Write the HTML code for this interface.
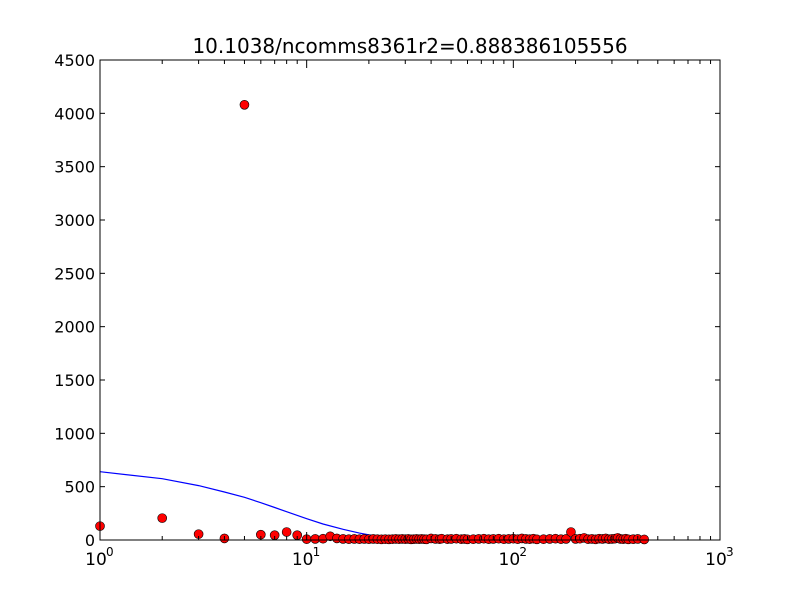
<!DOCTYPE html>
<html><head><meta charset="utf-8"><style>
body{margin:0;background:#fff;}
svg text{font-family:"DejaVu Sans","Liberation Sans",sans-serif;}
</style></head><body>
<svg id="chart" width="800" height="600" xmlns="http://www.w3.org/2000/svg">
<rect width="800" height="600" fill="#fff"/>
<text x="410" y="53" font-size="20" text-anchor="middle">10.1038/ncomms8361r2=0.888386105556</text>
<g id="marks"></g>
<g id="axes"></g>
<rect x="100" y="60" width="620" height="480" fill="none" stroke="#000" stroke-width="1"/>
</svg>
<script>
const yTicks=[0,500,1000,1500,2000,2500,3000,3500,4000,4500];
const xDecades=[0,1,2,3];
const ptX=[1,2,3,4,5,6,7,8,9,10,11,12,13,14,15,16,17,18,19,20,21,22,23,24,25,26,27,28,29,30,31,32,33,34,35,36,37,38,40,42,44,45,48,50,53,56,58,60,64,68,72,76,80,85,90,95,100,105,110,115,120,125,130,140,150,160,170,180,190,200,210,220,230,240,250,260,270,280,290,300,310,320,330,340,350,360,380,400,430];
const ptY=[130,205,55,15,4080,50,45,75,45,8,10,12,35,15,10,8,10,8,10,8,10,8,6,8,6,8,10,8,10,8,10,6,8,10,8,10,8,6,15,10,8,12,8,10,12,8,10,6,8,10,12,8,10,12,8,10,12,8,15,10,8,12,6,8,10,12,8,10,75,10,12,20,8,10,6,12,10,15,8,10,12,20,10,8,12,6,8,10,5];
const lineX=[1,2,3,4,5,6,7,8,10,12,15,18,20,25,30,50,100,200,430];
const lineY=[640,575,510,450,400,350,305,265,200,150,100,65,48,25,22,20,20,20,20];
const X0=100,X1=720,Y0=540,Y1=60;
function sx(v){return X0+(Math.log10(v)-0)/3*(X1-X0);}
function sy(v){return Y0-v/4500*(Y0-Y1);}
const NS="http://www.w3.org/2000/svg";
const marks=document.getElementById('marks'),axes=document.getElementById('axes');
function mk(t,a,p){const e=document.createElementNS(NS,t);for(const k in a)e.setAttribute(k,a[k]);p.appendChild(e);return e;}
let d=lineX.map((x,i)=>(i?'L':'M')+sx(x).toFixed(1)+','+sy(lineY[i]).toFixed(1)).join(' ');
const ln=mk('path',{d:d,fill:'none',stroke:'#0000ff','stroke-width':1.2},marks);


ptX.forEach((x,i)=>{
 const c=mk('circle',{cx:sx(x),cy:sy(ptY[i]),r:4.5,fill:'#ff0000',stroke:'#000','stroke-width':0.6},marks);
 
 
});
yTicks.forEach(v=>{
 const y=sy(v);
 mk('line',{x1:X0,x2:X0+5,y1:y,y2:y,stroke:'#000'},axes);
 mk('line',{x1:X1-5,x2:X1,y1:y,y2:y,stroke:'#000'},axes);
 const t=mk('text',{x:X0-5,y:y+6,'font-size':16,'text-anchor':'end'},axes);
 t.textContent=v;
 
 
});
xDecades.forEach(p=>{
 const x=sx(Math.pow(10,p));
 mk('line',{x1:x,x2:x,y1:Y0,y2:Y0-8,stroke:'#000'},axes);
 mk('line',{x1:x,x2:x,y1:Y1,y2:Y1+8,stroke:'#000'},axes);
 const t=mk('text',{x:x-4,y:Y0+25,'font-size':17,'text-anchor':'middle'},axes);
 t.textContent='10';
 
 
 const s=mk('text',{x:x+6,y:Y0+16,'font-size':12},axes);
 s.textContent=p;
 if(p<3){for(let m=2;m<10;m++){const xm=sx(m*Math.pow(10,p));
  mk('line',{x1:xm,x2:xm,y1:Y0,y2:Y0-4,stroke:'#000'},axes);
  mk('line',{x1:xm,x2:xm,y1:Y1,y2:Y1+4,stroke:'#000'},axes);}}
});
</script>
</body></html>
